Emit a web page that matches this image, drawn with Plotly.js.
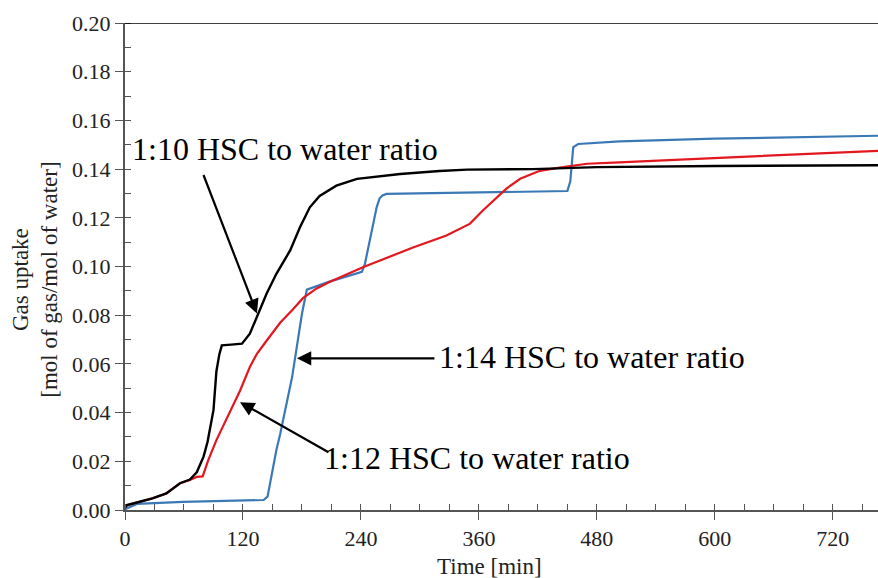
<!DOCTYPE html>
<html>
<head>
<meta charset="utf-8">
<script src="https://cdn.plot.ly/plotly-3.0.1.min.js"></script>
<style>
html,body{margin:0;padding:0;background:#fff;}
#chart{width:878px;height:578px;}
</style>
</head>
<body>
<div id="chart"></div>
<script>
// 1:10 HSC to water ratio (black)
const t10 = [0, 2, 15, 28, 42, 56, 66, 73, 80, 84, 90, 93, 96, 98.5, 108, 119, 127, 134, 144, 154, 168, 178, 188, 198, 215, 236, 256, 280, 320, 348, 415, 480, 600, 766];
const y10 = [0.001, 0.002, 0.0034, 0.0048, 0.0068, 0.011, 0.0125, 0.0155, 0.022, 0.028, 0.041, 0.057, 0.064, 0.0676, 0.0679, 0.0683, 0.0724, 0.079, 0.0888, 0.097, 0.1066, 0.1161, 0.1243, 0.129, 0.1332, 0.136, 0.1369, 0.138, 0.1392, 0.1398, 0.140, 0.1408, 0.1413, 0.1416];

// 1:12 HSC to water ratio (red)
const t12 = [0, 2, 15, 28, 42, 56, 66, 73, 79, 84.7, 93, 103, 117, 127, 134, 144, 158, 170, 181, 195, 208, 242, 259, 293, 327, 351, 364, 378, 388, 402, 422, 442, 470, 497, 580, 680, 766];
const y12 = [0.001, 0.002, 0.0034, 0.0048, 0.0068, 0.011, 0.0123, 0.0136, 0.0138, 0.0205, 0.0287, 0.037, 0.049, 0.0587, 0.064, 0.0695, 0.077, 0.082, 0.087, 0.091, 0.0936, 0.0997, 0.1025, 0.1078, 0.1127, 0.1176, 0.123, 0.1283, 0.132, 0.136, 0.1393, 0.1406, 0.1422, 0.1427, 0.1442, 0.1458, 0.1475];

// 1:14 HSC to water ratio (blue)
const t14 = [0, 2, 12, 59, 117, 141, 145, 154, 158, 170, 180, 185, 208, 236, 241, 244, 256, 259, 262, 266, 300, 400, 450, 453, 456, 461, 503, 600, 766];
const y14 = [0.0003, 0.0007, 0.0025, 0.0033, 0.004, 0.0041, 0.0055, 0.0246, 0.0314, 0.0546, 0.0806, 0.0905, 0.0938, 0.097, 0.0978, 0.101, 0.1243, 0.128, 0.1292, 0.1298, 0.130, 0.1305, 0.131, 0.135, 0.149, 0.1503, 0.1514, 0.1525, 0.1537];

const xTickVals = [0, 120, 240, 360, 480, 600, 720];
const yTickVals = [0.00, 0.02, 0.04, 0.06, 0.08, 0.10, 0.12, 0.14, 0.16, 0.18, 0.20];

const FAM = 'Liberation Serif';

const traces = [
  {x: t14, y: y14, mode: 'lines', name: '1:14', line: {color: '#3b79b6', width: 2.2}},
  {x: t12, y: y12, mode: 'lines', name: '1:12', line: {color: '#e3171e', width: 2.2}},
  {x: t10, y: y10, mode: 'lines', name: '1:10', line: {color: '#000000', width: 2.4}}
];

const layout = {
  width: 878, height: 578,
  margin: {l: 125, r: 0, t: 23, b: 68},
  paper_bgcolor: '#ffffff', plot_bgcolor: '#ffffff',
  showlegend: false,
  font: {family: FAM, color: '#222', size: 22},
  xaxis: {
    range: [0, 766], showgrid: false, zeroline: false,
    showline: true, linecolor: '#555', linewidth: 2,
    tickmode: 'array', tickvals: xTickVals, ticktext: xTickVals.map(String),
    ticks: 'outside', ticklen: 8, tickcolor: '#555', tickwidth: 1,
    minor: {dtick: 30, tick0: 0, ticks: 'inside', ticklen: 6, tickcolor: '#555', showgrid: false},
    tickfont: {family: FAM, size: 22, color: '#222'}
  },
  yaxis: {
    range: [0, 0.2], showgrid: false, zeroline: false,
    showline: true, linecolor: '#555', linewidth: 2,
    tickmode: 'array', tickvals: yTickVals, ticktext: yTickVals.map(v => v.toFixed(2)),
    ticks: 'outside', ticklen: 8, tickcolor: '#555', tickwidth: 1,
    minor: {dtick: 0.01, tick0: 0, ticks: 'inside', ticklen: 6, tickcolor: '#555', showgrid: false},
    tickfont: {family: FAM, size: 22, color: '#222'}
  },
  shapes: [
    {type: 'line', xref: 'paper', yref: 'y', x0: 0, x1: 1, y0: 0.2, y1: 0.2, line: {color: '#000', width: 1.5}}
  ],
  annotations: [
    {xref: 'paper', yref: 'paper', x: -0.12, y: 0.472, text: 'Gas uptake<br>[mol of gas/mol of water]', textangle: -90,
     showarrow: false, xanchor: 'center', yanchor: 'middle', font: {family: FAM, size: 23, color: '#222'}},
    {xref: 'paper', yref: 'paper', x: 0.4834, y: -0.117, text: 'Time [min]', showarrow: false,
     xanchor: 'center', yanchor: 'middle', font: {family: FAM, size: 23, color: '#222'}},
    {x: 5, y: 0.1484, text: '1:10 HSC to water ratio', showarrow: false, xanchor: 'left', yanchor: 'middle',
     font: {family: FAM, size: 32, color: '#000'}},
    {x: 134.2, y: 0.0807, text: '', showarrow: true, ax: -54, ay: -140, arrowhead: 2, arrowsize: 1.3, arrowwidth: 2.2, arrowcolor: '#000'},
    {x: 317.5, y: 0.0627, text: '1:14 HSC to water ratio', showarrow: false, xanchor: 'left', yanchor: 'middle',
     font: {family: FAM, size: 32, color: '#000'}},
    {x: 174.9, y: 0.0623, text: '', showarrow: true, ax: 139, ay: 0, arrowhead: 2, arrowsize: 1.3, arrowwidth: 2.2, arrowcolor: '#000'},
    {x: 200.5, y: 0.0213, text: '1:12 HSC to water ratio', showarrow: false, xanchor: 'left', yanchor: 'middle',
     font: {family: FAM, size: 32, color: '#000'}},
    {x: 117, y: 0.0443, text: '', showarrow: true, ax: 90, ay: 51, arrowhead: 2, arrowsize: 1.3, arrowwidth: 2.2, arrowcolor: '#000'}
  ]
};

Plotly.newPlot('chart', traces, layout, {displayModeBar: false, staticPlot: true});
</script>
</body>
</html>
